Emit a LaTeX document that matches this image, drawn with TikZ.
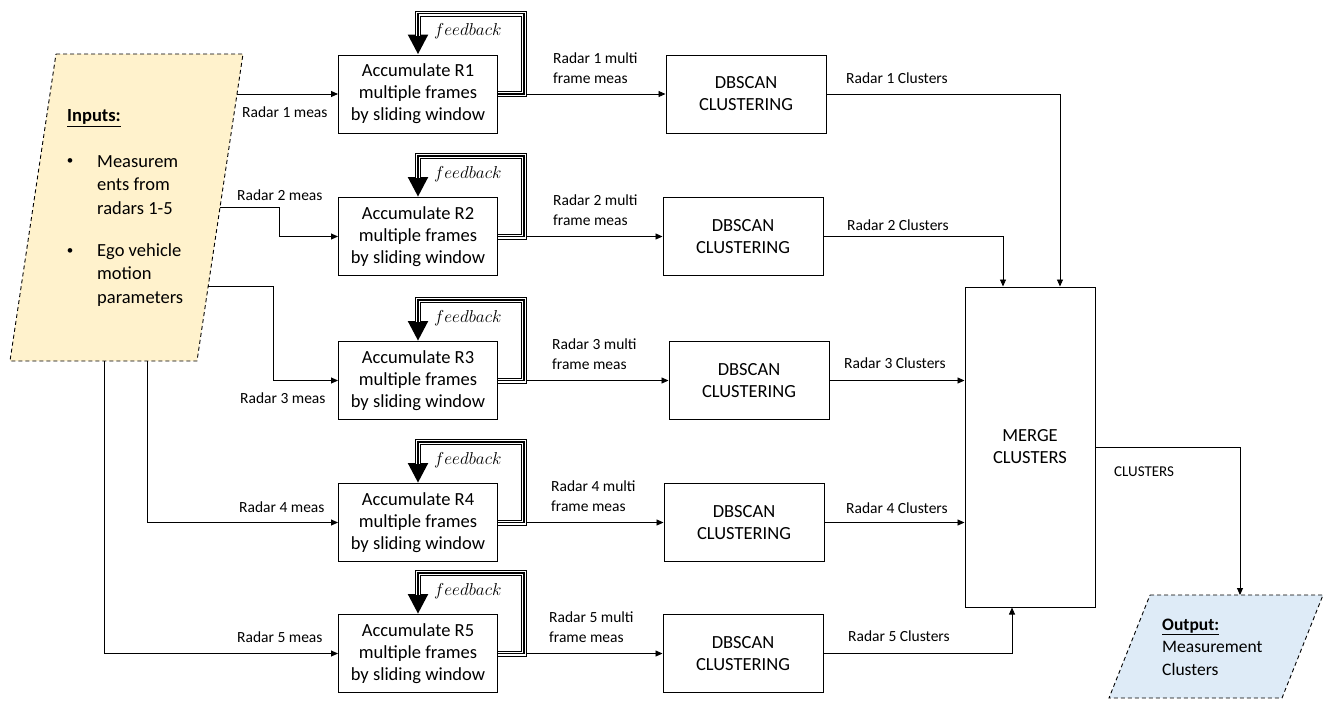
\documentclass[tikz,border=0pt]{standalone}
\usepackage{fontspec}
\setmainfont{Carlito}
\usetikzlibrary{arrows.meta,calc}
\definecolor{ingold}{RGB}{255,242,204}
\definecolor{outblue}{RGB}{222,235,247}
\begin{document}
\begin{tikzpicture}[x=1pt,y=-1pt,
  accbox/.style={draw,line width=1pt,minimum width=159pt,minimum height=78pt,align=center,inner sep=0pt,font=\fontsize{18.5}{22}\selectfont},
  dbbox/.style={draw,line width=1pt,minimum width=160pt,minimum height=78pt,align=center,inner sep=0pt,font=\fontsize{18.5}{22}\selectfont},
  lbl/.style={inner sep=0pt,anchor=west,align=left,font=\fontsize{15.5}{20}\selectfont},
  bigtext/.style={inner sep=0pt,anchor=west,align=left,font=\fontsize{18.5}{23.3}\selectfont},
  bul/.style={inner sep=0pt,anchor=center,font=\fontsize{13}{15}\selectfont},
  conn/.style={line width=0.9pt,-{Triangle[length=7pt,width=6pt]}},
  fbA/.style={line width=6pt,-{Triangle[length=20pt,width=19pt]}},
  fbB/.style={line width=4pt,white,shorten >=19pt},
  fbC/.style={line width=1.8pt,black,shorten >=19pt},
  fbtext/.style={inner sep=0pt,anchor=west,font=\fontsize{17.5}{20}\selectfont},
  para/.style={draw,line width=0.9pt,dash pattern=on 4pt off 3pt}
]
\useasboundingbox (0,0) rectangle (1333,710);

% ---------- input parallelogram ----------
\coordinate (inTL) at (56,54);
\coordinate (inTR) at (243,54);
\coordinate (inBR) at (197,361);
\coordinate (inBL) at (10,361);
\filldraw[para,fill=ingold] (inTL) -- (inTR) -- (inBR) -- (inBL) -- cycle;
\node[bigtext] (inh) at (67,118) {\textbf{\underline{Inputs:}}};
\node[bul] (b1) at (70,162) {•};
\node[bigtext] (t1) at (97,185) {Measurem\\ents from\\radars 1-5};
\node[bul] (b2) at (70,252) {•};
\node[bigtext] (t2) at (97,275) {Ego vehicle\\motion\\parameters};

% ---------- output parallelogram ----------
\coordinate (oTL) at (1150,595);
\coordinate (oTR) at (1323,595);
\coordinate (oBR) at (1282,698);
\coordinate (oBL) at (1109,698);
\filldraw[para,fill=outblue] (oTL) -- (oTR) -- (oBR) -- (oBL) -- cycle;
\node[bigtext,font=\fontsize{17.5}{22.5}\selectfont] (otxt) at (1162,647) {\textbf{\underline{Output:}}\\Measurement\\Clusters};
\coordinate (oin) at (1240,595);

% ---------- accumulate boxes ----------
\node[accbox] (r1) at (418,94)    {Accumulate R1\\multiple frames\\by sliding window};
\node[accbox] (r2) at (418,236.5) {Accumulate R2\\multiple frames\\by sliding window};
\node[accbox] (r3) at (418,380.5) {Accumulate R3\\multiple frames\\by sliding window};
\node[accbox] (r4) at (418,522.5) {Accumulate R4\\multiple frames\\by sliding window};
\node[accbox] (r5) at (418,653.5) {Accumulate R5\\multiple frames\\by sliding window};

% ---------- DBSCAN boxes ----------
\node[dbbox] (d1) at (746,94)    {DBSCAN\\CLUSTERING};
\node[dbbox] (d2) at (743,236.5) {DBSCAN\\CLUSTERING};
\node[dbbox] (d3) at (749,380.5) {DBSCAN\\CLUSTERING};
\node[dbbox] (d4) at (744,522.5) {DBSCAN\\CLUSTERING};
\node[dbbox] (d5) at (743,653.5) {DBSCAN\\CLUSTERING};

% ---------- merge ----------
\node[draw,line width=1pt,minimum width=130pt,minimum height=320pt,align=center,inner sep=0pt,font=\fontsize{18.5}{22}\selectfont] (m) at (1030,447) {MERGE\\CLUSTERS};

% ---------- inputs -> accumulate ----------
\coordinate (i1) at (237,94);
\coordinate (i2) at (220,207);
\coordinate (i3) at (208,286);
\coordinate (i4) at (147,361);
\coordinate (i5) at (104,361);
\draw[conn] (i1) -- (r1.west);
\draw[conn] (i2) -- (279,207) |- (r2.west);
\draw[conn] (i3) -- (273,286) |- (r3.west);
\draw[conn] (i4) |- (r4.west);
\draw[conn] (i5) |- (r5.west);
\node[lbl] (l1) at (242,112) {Radar 1 meas};
\node[lbl] (l2) at (237,195) {Radar 2 meas};
\node[lbl] (l3) at (240,398) {Radar 3 meas};
\node[lbl] (l4) at (239,507) {Radar 4 meas};
\node[lbl] (l5) at (237,637) {Radar 5 meas};

% ---------- accumulate -> DBSCAN ----------
\foreach \i/\lx in {1/553,2/553,3/552,4/551,5/549}{
  \draw[conn] (r\i.east) -- (r\i.east -| d\i.west);
  \node[lbl] (ml\i) at ($(\lx,0)+(0,0|-r\i.east)+(0,-26)$) {Radar \i\ multi\\frame meas};
}

% ---------- feedback loops ----------
\foreach \i in {1,...,5}{
  \draw[fbA] (r\i.east) -- ++(26,0) |- ($(r\i.north)+(0,-41)$) -- (r\i.north);
  \draw[fbB] (r\i.east) -- ++(26,0) |- ($(r\i.north)+(0,-41)$) -- (r\i.north);
  \draw[fbC] (r\i.east) -- ++(26,0) |- ($(r\i.north)+(0,-41)$) -- (r\i.north);
  \node[fbtext] (fb\i) at ($(r\i.north)+(16,-23)$) {$feedback$};
}

% ---------- DBSCAN -> merge ----------
\draw[conn] (d1.east) -| ([xshift=30pt]m.north);
\draw[conn] (d2.east) -| ([xshift=-27pt]m.north);
\draw[conn] (d3.east) -- (d3.east -| m.west);
\draw[conn] (d4.east) -- (d4.east -| m.west);
\draw[conn] (d5.east) -| ([xshift=-18pt]m.south);
\node[lbl] (c1) at (846,78)  {Radar 1 Clusters};
\node[lbl] (c2) at (847,225) {Radar 2 Clusters};
\node[lbl] (c3) at (844,363) {Radar 3 Clusters};
\node[lbl] (c4) at (846,508) {Radar 4 Clusters};
\node[lbl] (c5) at (848,636) {Radar 5 Clusters};

% ---------- merge -> output ----------
\draw[conn] (m.east) -| (oin);
\node[lbl,font=\fontsize{15}{18}\selectfont] (cl) at (1114,472) {CLUSTERS};
\end{tikzpicture}
\end{document}
